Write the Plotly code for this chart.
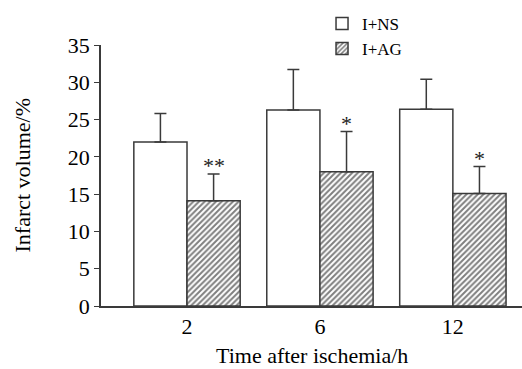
import plotly.graph_objects as go

categories = ["2", "6", "12"]
ns_values = [22.0, 26.3, 26.4]
ns_err = [3.8, 5.4, 4.0]
ag_values = [14.1, 18.0, 15.1]
ag_err = [3.6, 5.4, 3.6]
ag_sig = ["**", "*", "*"]

FONT = "Liberation Serif"
EDGE = "#3a3a3a"

fig = go.Figure()
fig.add_trace(go.Bar(
    x=categories, y=ns_values, name="I+NS",
    marker=dict(color="white", line=dict(color=EDGE, width=1.5)),
    error_y=dict(type="data", array=ns_err, arrayminus=[0]*3, symmetric=False,
                 color=EDGE, thickness=1.5, width=6),
))
fig.add_trace(go.Bar(
    x=categories, y=ag_values, name="I+AG",
    marker=dict(color="white", line=dict(color=EDGE, width=1.5),
                pattern=dict(shape="/", fgcolor="#000", bgcolor="white", size=4, solidity=0.5)),
    error_y=dict(type="data", array=ag_err, arrayminus=[0]*3, symmetric=False,
                 color=EDGE, thickness=1.5, width=6),
))

for i, (v, e, s) in enumerate(zip(ag_values, ag_err, ag_sig)):
    fig.add_annotation(x=i + 0.2, y=v + e, text=s, showarrow=False,
                       yanchor="bottom", yshift=-6,
                       font=dict(family=FONT, size=22, color="#222"))

fig.add_annotation(xref="paper", yref="paper", x=0.5, y=0, yshift=-49,
                   text="Time after ischemia/h", showarrow=False,
                   xanchor="center", yanchor="middle",
                   font=dict(family=FONT, size=22, color="black"))
fig.add_annotation(xref="paper", yref="paper", x=0, y=0.5, xshift=-79,
                   text="Infarct volume/%", showarrow=False, textangle=-90,
                   xanchor="center", yanchor="middle",
                   font=dict(family=FONT, size=22, color="black"))

fig.update_layout(
    width=522, height=369,
    margin=dict(l=101, r=0, t=45, b=63, autoexpand=False),
    paper_bgcolor="white", plot_bgcolor="white",
    barmode="group", bargap=0.2, bargroupgap=0,
    font=dict(family=FONT, color="black"),
    showlegend=True,
    legend=dict(x=0.525, y=1.15, xanchor="left", yanchor="top",
                font=dict(family=FONT, size=17), bgcolor="rgba(0,0,0,0)",
                tracegroupgap=0, itemwidth=30),
    xaxis=dict(type="category", range=[-0.647, 2.52], showline=True, linecolor=EDGE,
               linewidth=1.5, ticks="", tickfont=dict(size=22), showgrid=False,
               automargin=False),
    yaxis=dict(range=[0, 35], tickvals=[0, 5, 10, 15, 20, 25, 30, 35], showline=True,
               linecolor=EDGE, linewidth=1.5, ticks="outside", ticklen=5, tickcolor=EDGE,
               tickfont=dict(size=22), showgrid=False, zeroline=False, automargin=False),
)

fig.write_html("out.html", config={"displayModeBar": False},
               post_script="document.body.style.margin='0';document.body.style.overflow='hidden';")
